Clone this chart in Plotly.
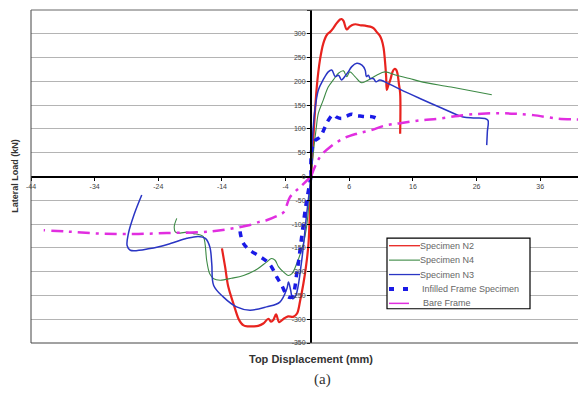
import plotly.graph_objects as go

# ---- data ----
n2_pos_x = [0, 0.4, 0.9, 1.4, 1.93, 2.5, 3.0, 3.5, 4.0, 4.55, 4.8, 5.1, 5.6, 6.0, 6.4, 7.0, 7.7, 8.5, 9.3, 9.9, 10.3, 10.8, 11.1, 11.4, 11.6, 11.8, 11.9, 12.1, 12.5, 12.8, 13.1, 13.4, 13.6, 13.8, 14.0, 14.0]
n2_pos_y = [0, 90, 188, 245, 280, 298, 304, 312, 322, 330, 331, 327, 309, 314, 318, 320, 318, 317, 315, 311, 304, 296, 287, 270, 245, 210, 182, 190, 205, 220, 226, 224, 215, 195, 175, 90]
n2_neg_x = [0, -0.16, -0.4, -0.8, -1.2, -1.7, -2.2, -2.8, -3.6, -4.3, -5.0, -5.5, -5.9, -6.3, -6.7, -7.5, -8.3, -9.1, -10.0, -10.6, -11.0, -11.4, -12.2, -13.0, -13.5, -14.0]
n2_neg_y = [0, -64, -141, -190, -225, -260, -288, -295, -294, -299, -306, -290, -301, -305, -299, -309, -314, -315, -315, -313, -308, -299, -267, -232, -190, -151]

n4_pos_x = [0, 0.4, 0.8, 1.15, 1.9, 2.7, 3.5, 4.3, 5.1, 5.6, 6.1, 6.9, 7.95, 9.0, 10.3, 11.6, 13.4, 15.5, 17.1, 22.0, 28.4]
n4_pos_y = [0, 55, 100, 133, 160, 188, 203, 217, 222, 210, 220, 210, 197, 203, 213, 220, 213, 206, 200, 188, 172]
n4_neg_x = [0, -0.7, -1.2, -2.25, -3.0, -3.6, -4.3, -5.1, -5.65, -6.2, -7.0, -8.5, -10.6, -12.5, -14.3, -15.3, -15.9, -16.1, -16.4, -16.9, -17.4, -18.5, -19.5, -20.6, -21.3, -21.5, -21.1]
n4_neg_y = [0, -106, -141, -183, -204, -208, -201, -190, -176, -172.5, -180, -195, -208, -214, -218, -215, -205, -197, -176, -127, -123, -120, -117, -119, -117, -106, -88]

n3_pos_x = [0, 0.1, 0.3, 0.6, 1.15, 1.9, 2.7, 3.25, 3.8, 4.3, 4.8, 5.3, 5.85, 6.4, 7.2, 8.0, 8.5, 8.7, 9.0, 9.3, 9.8, 10.2, 10.8, 11.6, 14.0, 17.1, 20.5, 23.9, 25.5, 27.3, 27.8, 27.7, 27.6]
n3_pos_y = [0, 48, 95, 139, 182, 203, 220, 224, 210, 213, 203, 210, 220, 231, 238, 234, 224, 210, 213, 206, 206, 199, 203, 199, 183, 164, 144, 125, 123, 122, 118, 94, 66]
n3_neg_x = [0, -0.7, -1.5, -2.4, -2.9, -3.2, -3.55, -3.8, -4.9, -7.0, -9.6, -11.7, -13.8, -15.3, -15.6, -15.9, -16.6, -17.7, -19.5, -22.1, -25.3, -28.4, -28.9, -28.7, -27.8, -26.6]
n3_neg_y = [0, -80, -180, -250, -257, -239, -222, -236, -264, -274, -281, -274, -253, -229, -183, -148, -130, -126, -130, -141, -151.5, -155, -145, -120, -80, -39]

inf_pos_x = [0, 0.1, 0.6, 1.4, 2.2, 2.7, 3.5, 4.0, 4.8, 5.6, 6.4, 7.0, 7.7, 8.5, 9.3, 10.0, 10.8]
inf_pos_y = [0, 55, 75, 83, 104, 118, 130, 125, 122, 127, 131, 128, 127, 126, 126, 124, 118]
inf_neg_x = [0, -0.8, -1.5, -2.2, -3.0, -3.6, -4.1, -4.6, -5.4, -6.2, -7.0, -8.3, -9.6, -10.6, -11.1, -11.2]
inf_neg_y = [0, -60, -130, -200, -253, -253, -243, -229, -211, -190, -178, -166, -155, -141, -120, -102]

bare_pos_x = [0, 1.4, 3.0, 5.1, 7.2, 9.3, 11.9, 14.0, 17.1, 20.3, 23.9, 26.8, 29.7, 32.0, 34.9, 38.6, 41.8, 43.2]
bare_pos_y = [0, 41, 62, 80, 90, 97, 108, 112, 118, 122, 129, 132, 133, 132, 129, 122, 120, 119]
bare_neg_x = [0, -1.7, -3.3, -4.3, -5.5, -7.0, -8.0, -9.6, -12.2, -14.8, -17.4, -22.7, -27.9, -33.1, -38.0, -42.0]
bare_neg_y = [0, -22, -43, -75, -84, -92, -95, -102, -109, -114, -117, -119, -121, -120, -116, -113]

series_names = ["Specimen N2", "Specimen N4", "Specimen N3", "Infilled Frame Specimen", "Bare Frame"]
x_ticks = [-44, -34, -24, -14, -4, 6, 16, 26, 36]
y_ticks = [-350, -300, -250, -200, -150, -100, -50, 0, 50, 100, 150, 200, 250, 300, 350]

X_RANGE = [-44, 43.2]
Y_RANGE = [-350, 350]

# ---- layout constants (page pixels; the page body has an 8px margin) ----
OFF = 8
W, H = 586 - OFF, 394 - OFF
PL, PR, PT, PB = 31, 586, 10, 342.7          # plot-area edges in page pixels
ML, MT = PL - OFF, PT - OFF
MR, MB = W - (PR - OFF), H - (PB - OFF)
PW, PH = W - ML - MR, H - MT - MB


def px(x):
    return (x - OFF - ML) / PW


def py(y):
    return (H - MB - (y - OFF)) / PH


def join(xp, yp, xn, yn):
    return list(xp) + [None] + list(xn), list(yp) + [None] + list(yn)


styles = [
    dict(color="#e8231e", width=2.2),
    dict(color="#3d8a45", width=1.1),
    dict(color="#2a35c4", width=1.5),
    dict(color="#1a1ae6", width=3.5, dash="6px,6px"),
    dict(color="#e12ee0", width=2.5, dash="12px,6px,3px,6px"),
]
legend_styles = [
    dict(color="#e8231e", width=1.3),
    dict(color="#3d8a45", width=1.1),
    dict(color="#2a35c4", width=1.3),
    dict(color="#1a1ae6", width=4, dash="5px,9px"),
    dict(color="#e12ee0", width=1.5, dash="20px,8px,2px,40px"),
]
data = [
    join(n2_pos_x, n2_pos_y, n2_neg_x, n2_neg_y),
    join(n4_pos_x, n4_pos_y, n4_neg_x, n4_neg_y),
    join(n3_pos_x, n3_pos_y, n3_neg_x, n3_neg_y),
    join(inf_pos_x, inf_pos_y, inf_neg_x, inf_neg_y),
    join(bare_pos_x, bare_pos_y, bare_neg_x, bare_neg_y),
]

fig = go.Figure()
for name, (xs, ys), st in zip(series_names, data, styles):
    fig.add_trace(go.Scatter(x=xs, y=ys, mode="lines", name=name, line=st,
                             line_shape="spline", connectgaps=False,
                             showlegend=False))

ypos = (0 - X_RANGE[0]) / (X_RANGE[1] - X_RANGE[0])

shapes = [
    dict(type="line", xref="paper", yref="paper", x0=0, x1=0, y0=0, y1=1,
         line=dict(color="#444", width=1)),
    dict(type="line", xref="paper", yref="paper", x0=0, x1=1, y0=1, y1=1,
         line=dict(color="#666", width=1)),
    dict(type="line", xref="paper", yref="paper", x0=0, x1=1, y0=0, y1=0,
         line=dict(color="#444", width=1)),
]
annotations = [
    dict(text="<b>Lateral Load (kN)</b>", xref="paper", yref="paper",
         x=px(8.5), y=py(176), textangle=-90, showarrow=False,
         font=dict(size=9, color="#333"), xanchor="left", yanchor="middle"),
    dict(text="<b>Top Displacement (mm)</b>", xref="paper", yref="paper",
         x=px(311.5), y=py(359), showarrow=False, xanchor="center", yanchor="middle",
         font=dict(size=11, color="#333")),
    dict(text="(a)", xref="paper", yref="paper", x=px(322), y=py(379),
         showarrow=False, xanchor="center", yanchor="middle",
         font=dict(size=15, color="#333",
                   family="Liberation Serif, Times New Roman, serif")),
]

# ---- custom legend box ----
LX0, LX1, LY0, LY1 = 387, 530, 238, 308.5
shapes.append(dict(type="rect", xref="paper", yref="paper",
                   x0=px(LX0), x1=px(LX1), y0=py(LY1), y1=py(LY0),
                   fillcolor="white", line=dict(color="black", width=1.2),
                   layer="above"))
text_x = [418, 418, 418, 420, 421]
for i, (name, st) in enumerate(zip(series_names, legend_styles)):
    yc = 245.5 + 14.4 * i
    shapes.append(dict(type="line", xref="paper", yref="paper",
                       x0=px(389), x1=px(420 if i < 3 else 414), y0=py(yc), y1=py(yc),
                       line=st, layer="above"))
    annotations.append(dict(text=name, xref="paper", yref="paper",
                            x=px(text_x[i]), y=py(yc), showarrow=False,
                            xanchor="left", yanchor="middle",
                            font=dict(size=9, color="#666")))

fig.update_layout(
    width=W, height=H,
    margin=dict(l=ML, r=MR, t=MT, b=MB, pad=0, autoexpand=False),
    plot_bgcolor="white", paper_bgcolor="white",
    font=dict(family="Arial, Liberation Sans, sans-serif", color="#333"),
    xaxis=dict(range=X_RANGE, tickvals=x_ticks, ticktext=[str(v) for v in x_ticks],
               showgrid=False, zeroline=False, showline=True, linecolor="black",
               linewidth=2, ticks="outside", ticklen=3, tickcolor="black",
               anchor="free", position=0.5, automargin=False,
               tickfont=dict(size=7, color="#444")),
    yaxis=dict(range=Y_RANGE, tickvals=y_ticks, ticktext=[str(v) for v in y_ticks],
               showgrid=True, gridcolor="#b4b4b4", gridwidth=1, zeroline=False,
               showline=True, linecolor="black", linewidth=2, ticks="outside",
               ticklen=3, tickcolor="black", anchor="free", position=ypos,
               automargin=False, tickfont=dict(size=7, color="#444")),
    showlegend=False,
    shapes=shapes,
    annotations=annotations,
)

fig.write_html("out.html")
